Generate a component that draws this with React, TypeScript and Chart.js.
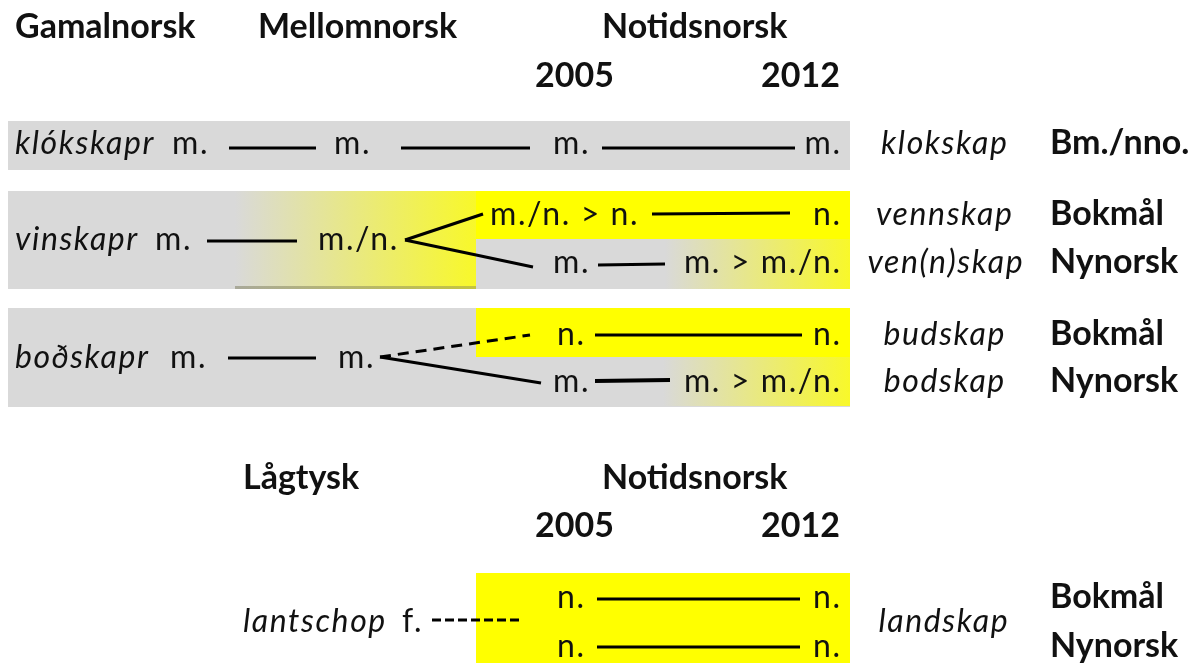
import React, { useEffect, useRef } from "react";
import { Chart, registerables } from "chart.js";

Chart.register(...registerables);

const W = 1202;
const H = 663;
const FONT = "Lato, 'Open Sans', sans-serif";

// ---- text content ----
const periodHeaders = ["Gamalnorsk", "Mellomnorsk", "Notidsnorsk"];
const lowerHeaders = ["Lågtysk", "Notidsnorsk"];
const yearLabels = ["2005", "2012"];
const sourceWords = ["klókskapr", "vinskapr", "boðskapr", "lantschop"];
const sourceGenders = ["m.", "m.", "m.", "f."];
const middleGenders = ["m.", "m./n.", "m."];
const modernStart = ["m.", "m./n. > n.", "m.", "n.", "m.", "n.", "n."];
const modernEnd = ["m.", "n.", "m. > m./n.", "n.", "m. > m./n.", "n.", "n."];
const modernWords = ["klokskap", "vennskap", "ven(n)skap", "budskap", "bodskap", "landskap"];
const standards = ["Bm./nno.", "Bokmål", "Nynorsk", "Bokmål", "Nynorsk", "Bokmål", "Nynorsk"];

// ---- diagram layout (diagram units = pixels of the figure) ----
type Txt = { t: string; x: number; y: number; s: "b" | "r" | "i"; a: CanvasTextAlign };
const texts: Txt[] = [
  { t: periodHeaders[0], x: 15, y: 38, s: "b", a: "left" },
  { t: periodHeaders[1], x: 258, y: 38, s: "b", a: "left" },
  { t: periodHeaders[2], x: 602, y: 38, s: "b", a: "left" },
  { t: yearLabels[0], x: 535, y: 87, s: "b", a: "left" },
  { t: yearLabels[1], x: 840, y: 87, s: "b", a: "right" },
  { t: lowerHeaders[0], x: 243, y: 489, s: "b", a: "left" },
  { t: lowerHeaders[1], x: 602, y: 489, s: "b", a: "left" },
  { t: yearLabels[0], x: 535, y: 537, s: "b", a: "left" },
  { t: yearLabels[1], x: 840, y: 537, s: "b", a: "right" },
  // row 1
  { t: sourceWords[0], x: 15, y: 154, s: "i", a: "left" },
  { t: sourceGenders[0], x: 172, y: 154, s: "r", a: "left" },
  { t: middleGenders[0], x: 334, y: 154, s: "r", a: "left" },
  { t: modernStart[0], x: 553, y: 154, s: "r", a: "left" },
  { t: modernEnd[0], x: 840, y: 154, s: "r", a: "right" },
  { t: modernWords[0], x: 944, y: 154, s: "i", a: "center" },
  { t: standards[0], x: 1050, y: 154, s: "b", a: "left" },
  // row 2
  { t: sourceWords[1], x: 15, y: 250, s: "i", a: "left" },
  { t: sourceGenders[1], x: 155, y: 250, s: "r", a: "left" },
  { t: middleGenders[1], x: 318, y: 250, s: "r", a: "left" },
  { t: modernStart[1], x: 490, y: 225, s: "r", a: "left" },
  { t: modernEnd[1], x: 840, y: 225, s: "r", a: "right" },
  { t: modernStart[2], x: 553, y: 273, s: "r", a: "left" },
  { t: modernEnd[2], x: 840, y: 273, s: "r", a: "right" },
  { t: modernWords[1], x: 944, y: 225, s: "i", a: "center" },
  { t: modernWords[2], x: 945, y: 273, s: "i", a: "center" },
  { t: standards[1], x: 1050, y: 225, s: "b", a: "left" },
  { t: standards[2], x: 1050, y: 273, s: "b", a: "left" },
  // row 3
  { t: sourceWords[2], x: 15, y: 368, s: "i", a: "left" },
  { t: sourceGenders[2], x: 170, y: 368, s: "r", a: "left" },
  { t: middleGenders[2], x: 338, y: 368, s: "r", a: "left" },
  { t: modernStart[3], x: 557, y: 345, s: "r", a: "left" },
  { t: modernEnd[3], x: 840, y: 345, s: "r", a: "right" },
  { t: modernStart[4], x: 553, y: 392, s: "r", a: "left" },
  { t: modernEnd[4], x: 840, y: 392, s: "r", a: "right" },
  { t: modernWords[3], x: 944, y: 345, s: "i", a: "center" },
  { t: modernWords[4], x: 944, y: 392, s: "i", a: "center" },
  { t: standards[3], x: 1050, y: 345, s: "b", a: "left" },
  { t: standards[4], x: 1050, y: 392, s: "b", a: "left" },
  // bottom
  { t: sourceWords[3], x: 243, y: 632, s: "i", a: "left" },
  { t: sourceGenders[3], x: 402, y: 632, s: "r", a: "left" },
  { t: modernStart[5], x: 557, y: 608, s: "r", a: "left" },
  { t: modernEnd[5], x: 840, y: 608, s: "r", a: "right" },
  { t: modernStart[6], x: 557, y: 657, s: "r", a: "left" },
  { t: modernEnd[6], x: 840, y: 657, s: "r", a: "right" },
  { t: modernWords[5], x: 943, y: 632, s: "i", a: "center" },
  { t: standards[5], x: 1050, y: 608, s: "b", a: "left" },
  { t: standards[6], x: 1050, y: 657, s: "b", a: "left" },
];

type Box = { x0: number; y0: number; x1: number; y1: number; fill: "gray" | "yellow" | "grad" | "edge" };
const boxes: Box[] = [
  { x0: 8, y0: 121, x1: 850, y1: 170, fill: "gray" },
  { x0: 8, y0: 191, x1: 850, y1: 289, fill: "gray" },
  { x0: 8, y0: 308, x1: 850, y1: 407, fill: "gray" },
  { x0: 235, y0: 191, x1: 476, y1: 289, fill: "grad" },
  { x0: 235, y0: 286, x1: 476, y1: 289, fill: "edge" },
  { x0: 476, y0: 191, x1: 850, y1: 239, fill: "yellow" },
  { x0: 665, y0: 239, x1: 850, y1: 289, fill: "grad" },
  { x0: 476, y0: 308, x1: 850, y1: 357, fill: "yellow" },
  { x0: 663, y0: 357, x1: 850, y1: 406, fill: "grad" },
  { x0: 476, y0: 573, x1: 850, y1: 663, fill: "yellow" },
];

type Seg = { x0: number; y0: number; x1: number; y1: number; dash?: number[]; w?: number };
const segments: Seg[] = [
  { x0: 229, y0: 148, x1: 316, y1: 148 },
  { x0: 401, y0: 148, x1: 530, y1: 148 },
  { x0: 602, y0: 148, x1: 795, y1: 148 },
  { x0: 207, y0: 241, x1: 297, y1: 241 },
  { x0: 405, y0: 240, x1: 483, y1: 214 },
  { x0: 405, y0: 240, x1: 533, y1: 267 },
  { x0: 652, y0: 214, x1: 790, y1: 213 },
  { x0: 598, y0: 265, x1: 665, y1: 264 },
  { x0: 228, y0: 358, x1: 316, y1: 358 },
  { x0: 380, y0: 357, x1: 530, y1: 335, dash: [11, 7] },
  { x0: 380, y0: 357, x1: 541, y1: 383 },
  { x0: 595, y0: 335, x1: 802, y1: 335 },
  { x0: 595, y0: 381, x1: 670, y1: 380, w: 4 },
  { x0: 432, y0: 620, x1: 521, y1: 620, dash: [9, 4] },
  { x0: 597, y0: 599, x1: 800, y1: 599 },
  { x0: 597, y0: 647, x1: 800, y1: 647 },
];

const fontFor = (s: Txt["s"]) =>
  s === "b" ? `bold 34px ${FONT}` : s === "i" ? `italic 32px ${FONT}` : `32px ${FONT}`;
const spacingFor = (s: Txt["s"]) => (s === "b" ? 0 : 1.6);

const boxPlugin = {
  id: "boxes",
  beforeDatasetsDraw(chart: any) {
    const { ctx, scales } = chart;
    const sx = scales.x, sy = scales.y;
    ctx.save();
    boxes.forEach((b) => {
      const x0 = sx.getPixelForValue(b.x0), x1 = sx.getPixelForValue(b.x1);
      const y0 = sy.getPixelForValue(b.y0), y1 = sy.getPixelForValue(b.y1);
      if (b.fill === "gray") ctx.fillStyle = "#d9d9d9";
      else if (b.fill === "yellow") ctx.fillStyle = "#ffff00";
      else {
        const g = ctx.createLinearGradient(x0, 0, x1, 0);
        if (b.fill === "grad") {
          g.addColorStop(0, "#d9d9d9");
          g.addColorStop(1, "#f8f82a");
        } else {
          g.addColorStop(0, "#a9a99a");
          g.addColorStop(1, "#c4c440");
        }
        ctx.fillStyle = g;
      }
      ctx.fillRect(x0, y0, x1 - x0, y1 - y0);
    });
    ctx.restore();
  },
  afterDatasetsDraw(chart: any) {
    const { ctx, scales } = chart;
    ctx.save();
    ctx.fillStyle = "#111";
    ctx.textBaseline = "alphabetic";
    texts.forEach((t) => {
      ctx.font = fontFor(t.s);
      const sp = spacingFor(t.s);
      ctx.letterSpacing = `${sp}px`;
      ctx.textAlign = t.a;
      let x = scales.x.getPixelForValue(t.x);
      if (t.a === "right") x += sp;
      else if (t.a === "center") x += sp / 2;
      ctx.fillText(t.t, x, scales.y.getPixelForValue(t.y));
    });
    ctx.restore();
  },
};

export default function App() {
  const ref = useRef<HTMLCanvasElement | null>(null);
  useEffect(() => {
    if (!ref.current) return;
    const chart = new Chart(ref.current, {
      type: "scatter",
      data: {
        datasets: segments.map((s) => ({
          data: [
            { x: s.x0, y: s.y0 },
            { x: s.x1, y: s.y1 },
          ],
          showLine: true,
          borderColor: "#000",
          borderWidth: s.w ?? 3,
          borderDash: s.dash ?? [],
          pointRadius: 0,
          borderCapStyle: "butt",
        })),
      },
      options: {
        animation: false,
        responsive: true,
        maintainAspectRatio: false,
        layout: { padding: 0 },
        plugins: { legend: { display: false }, tooltip: { enabled: false } },
        events: [],
        scales: {
          x: { type: "linear", min: 0, max: W, display: false },
          y: { type: "linear", min: 0, max: H, reverse: true, display: false },
        },
      },
      plugins: [boxPlugin],
    } as any);
    return () => chart.destroy();
  }, []);
  return (
    <div style={{ position: "absolute", left: 0, top: 0, width: W, height: H, background: "#fff" }}>
      <canvas ref={ref} />
    </div>
  );
}
